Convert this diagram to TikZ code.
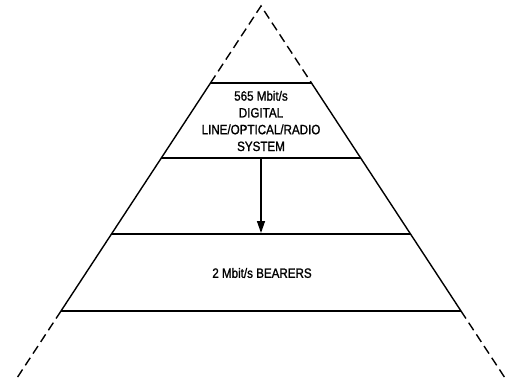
\documentclass[tikz,border=0pt]{standalone}
\usepackage{fontspec}
\setmainfont{Liberation Sans}[FakeStretch=0.86,FakeBold=1.2]
\usetikzlibrary{arrows.meta}
\begin{document}
\begin{tikzpicture}[x=1pt,y=-1pt,
  side/.style={line width=1.4pt},
  sidedash/.style={side,dash pattern=on 9pt off 5pt},
  level/.style={line width=1.4pt},
  label/.style={font=\fontsize{13.5}{16.8}\selectfont,align=center,inner sep=0pt}]
  \useasboundingbox (0,0) rectangle (506,385);
  % apex and the ends of the four level lines
  \coordinate (apex) at (261,6);
  \coordinate (l1) at (210.5,83);  \coordinate (r1) at (311.5,83);
  \coordinate (l2) at (161.3,158); \coordinate (r2) at (360.7,158);
  \coordinate (l3) at (111.4,234); \coordinate (r3) at (410.6,234);
  \coordinate (l4) at (61,311);    \coordinate (r4) at (461,311);
  \coordinate (lb) at (15,381);    \coordinate (rb) at (507,381);
  % pyramid sides: dashed tip and foot, solid middle
  \draw[sidedash] (l1) -- (apex) -- (r1);
  \draw[side] (l1) -- (l4);
  \draw[side] (r1) -- (r4);
  \draw[sidedash] (l4) -- (lb);
  \draw[sidedash] (r4) -- (rb);
  % levels
  \draw[level] (l1) -- (r1);
  \draw[level] (l2) -- (r2);
  \draw[level] (l3) -- (r3);
  \draw[level] (l4) -- (r4);
  % labels
  \node[label] (sys) at (261,121) {565 Mbit/s\\DIGITAL\\LINE/OPTICAL/RADIO\\SYSTEM};
  \node[label] (bear) at (262,273) {2 Mbit/s BEARERS};
  % feed from the line system down to the bearers
  \coordinate (afrom) at (261,158);
  \coordinate (ato) at (261,233);
  \draw[line width=1.4pt,-{Triangle[length=12pt,width=8pt]}] (afrom) -- (ato);
\end{tikzpicture}
\end{document}
